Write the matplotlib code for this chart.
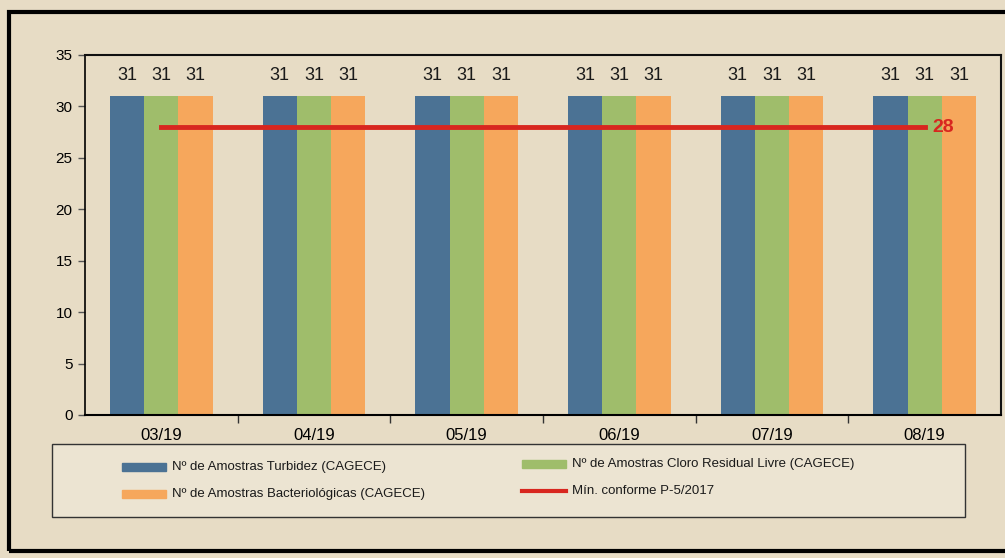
import matplotlib
matplotlib.use("Agg")
import matplotlib.pyplot as plt
from matplotlib.patches import Rectangle
from matplotlib.lines import Line2D
import numpy as np

months = ["03/19", "04/19", "05/19", "06/19", "07/19", "08/19"]
turbidez = [31, 31, 31, 31, 31, 31]
cloro = [31, 31, 31, 31, 31, 31]
bacterio = [31, 31, 31, 31, 31, 31]
minimo = [28, 28, 28, 28, 28, 28]
series_names = ["Nº de Amostras Turbidez (CAGECE)",
                "Nº de Amostras Cloro Residual Livre (CAGECE)",
                "Nº de Amostras Bacteriológicas (CAGECE)",
                "Mín. conforme P-5/2017"]

c_blue = "#4b7294"
c_green = "#9fbd6b"
c_orange = "#f6a75c"
c_red = "#d8261f"
bg = "#e7dcc5"

plt.rcParams['font.family'] = ['Liberation Sans', 'DejaVu Sans']

fig = plt.figure(figsize=(10.05, 5.58), dpi=100)
fig.patch.set_facecolor(bg)
W, H = 1005, 558

def fx(px):
    return px / W

def fy(py):
    return 1 - py / H

# outer frame
fig.patches.append(Rectangle((fx(9), fy(551)), fx(1010 - 9), (551 - 12) / H,
                             transform=fig.transFigure, fill=False,
                             edgecolor="black", linewidth=3))

ax = fig.add_axes([fx(85), fy(415), fx(1001 - 85), (415 - 55) / H])
ax.set_facecolor(bg)
x = np.arange(len(months))
bw = 0.224
for vals, col, off in [(turbidez, c_blue, -bw), (cloro, c_green, 0), (bacterio, c_orange, bw)]:
    bars = ax.bar(x + off, vals, width=bw, color=col)
    for b, v in zip(bars, vals):
        ax.text(b.get_x() + b.get_width() / 2, v + 1.2, str(v), ha="center", va="bottom",
                fontsize=13, color="#1a1a1a")

ax.plot(x, minimo, color=c_red, linewidth=3.5)
ax.text(x[-1] + 0.05, minimo[-1], str(minimo[-1]), color=c_red, fontsize=14, fontweight="bold",
        va="center", ha="left")

ax.set_xlim(-0.5, 5.5)
ax.set_ylim(0, 35)
ax.set_yticks(range(0, 36, 5))
ax.set_xticks(np.arange(0.5, 5.5, 1))
ax.set_xticklabels([])
ax.set_xticks(x, minor=True)
ax.set_xticklabels(months, minor=True, fontsize=12)
ax.tick_params(axis="x", which="major", length=6, width=1, direction="out", color="#333333")
ax.tick_params(axis="x", which="minor", length=0, pad=9)
ax.tick_params(axis="y", length=5, width=1, color="#555555", labelsize=11, pad=4)
for s in ["top", "right"]:
    ax.spines[s].set_linewidth(1.5)
    ax.spines[s].set_color("#111111")
ax.spines["left"].set_linewidth(1.2)
ax.spines["bottom"].set_linewidth(1.5)

# legend box drawn at figure level
fig.patches.append(Rectangle((fx(52), fy(517)), fx(965 - 52), (517 - 444) / H,
                             transform=fig.transFigure, facecolor="#ece4d2",
                             edgecolor="#333333", linewidth=1))
entries = [(series_names[0], c_blue, "bar", 122, 467),
           (series_names[2], c_orange, "bar", 122, 494),
           (series_names[1], c_green, "bar", 522, 464),
           (series_names[3], c_red, "line", 522, 491)]
for name, col, kind, px, py in entries:
    if kind == "bar":
        fig.patches.append(Rectangle((fx(px), fy(py + 4)), fx(44), 8 / H,
                                     transform=fig.transFigure, color=col))
    else:
        fig.lines.append(Line2D([fx(px), fx(px + 44)], [fy(py), fy(py)],
                                transform=fig.transFigure, color=col, linewidth=3))
    fig.text(fx(px + 50), fy(py), name, fontsize=9.5, va="center", ha="left", color="#1a1a1a")

fig.savefig("out.png", dpi=100, facecolor=bg)
